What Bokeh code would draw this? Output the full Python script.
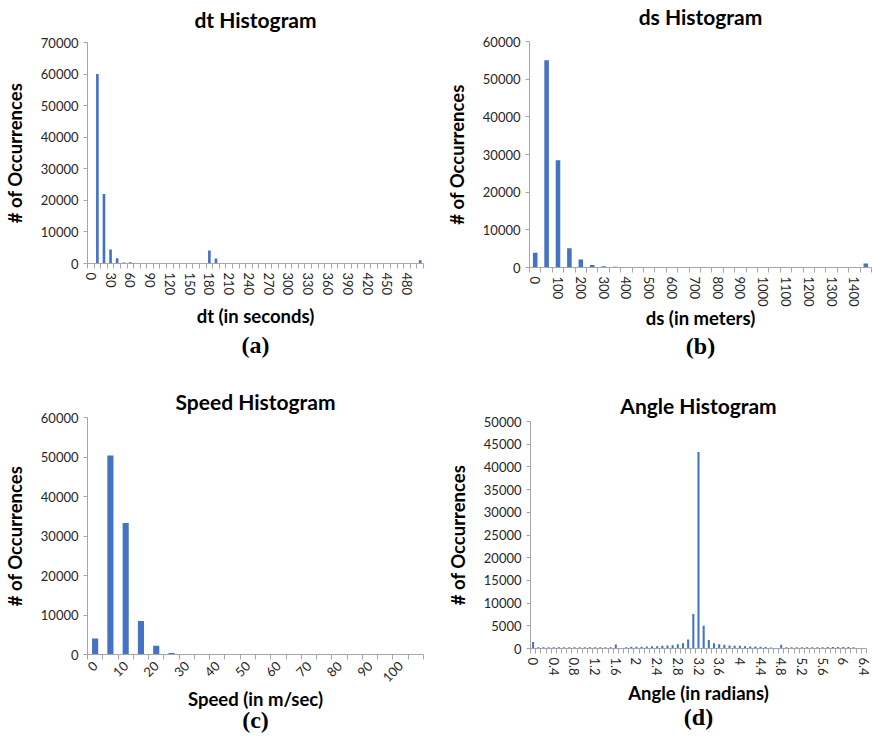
from bokeh.plotting import figure
from bokeh.layouts import column, row
from bokeh.models import FixedTicker, Range1d, LinearAxis, ColumnDataSource
from bokeh.embed import file_html
from bokeh.resources import INLINE

# ---------------- data ----------------
dt_bins = ["0", "10", "20", "30", "40", "50", "60", "70", "80", "90", "100", "110", "120", "130",
           "140", "150", "160", "170", "180", "190", "200", "210", "220", "230", "240", "250",
           "260", "270", "280", "290", "300", "310", "320", "330", "340", "350", "360", "370",
           "380", "390", "400", "410", "420", "430", "440", "450", "460", "470", "480", "490", "500"]
dt_counts = [0, 60000, 22000, 4400, 1700, 300, 400, 120, 80, 60, 50, 40, 60, 40,
             30, 40, 30, 60, 4100, 1600, 100, 60, 40, 30, 60, 30,
             40, 30, 20, 20, 60, 20, 20, 20, 20, 30, 150, 60,
             20, 20, 20, 20, 40, 20, 20, 20, 20, 20, 30, 20, 1000]
dt_tick_labels = ["0", "30", "60", "90", "120", "150", "180", "210", "240", "270", "300",
                  "330", "360", "390", "420", "450", "480"]
dt_yticks = [0, 10000, 20000, 30000, 40000, 50000, 60000, 70000]

ds_bins = ["0", "50", "100", "150", "200", "250", "300", "350", "400", "450", "500", "550",
           "600", "650", "700", "750", "800", "850", "900", "950", "1000", "1050", "1100",
           "1150", "1200", "1250", "1300", "1350", "1400", "1450"]
ds_counts = [3900, 55000, 28500, 5100, 2100, 650, 330, 170, 110, 80, 60, 45,
             35, 40, 25, 20, 20, 15, 15, 15, 12, 12, 10,
             10, 10, 10, 10, 10, 10, 1050]
ds_tick_labels = ["0", "100", "200", "300", "400", "500", "600", "700", "800", "900", "1000",
                  "1100", "1200", "1300", "1400"]
ds_yticks = [0, 10000, 20000, 30000, 40000, 50000, 60000]

speed_bins = ["0", "5", "10", "15", "20", "25", "30", "35", "40", "45", "50", "55", "60",
              "65", "70", "75", "80", "85", "90", "95", "100", "105"]
speed_counts = [4050, 50400, 33300, 8500, 2200, 400, 60, 30, 20, 15, 10, 10, 8,
                6, 5, 5, 4, 3, 3, 2, 2, 2]
speed_tick_labels = ["0", "10", "20", "30", "40", "50", "60", "70", "80", "90", "100"]
speed_yticks = [0, 10000, 20000, 30000, 40000, 50000, 60000]

angle_bins = ["0", "0.1", "0.2", "0.3", "0.4", "0.5", "0.6", "0.7", "0.8", "0.9", "1", "1.1",
              "1.2", "1.3", "1.4", "1.5", "1.6", "1.7", "1.8", "1.9", "2", "2.1", "2.2", "2.3",
              "2.4", "2.5", "2.6", "2.7", "2.8", "2.9", "3", "3.1", "3.2", "3.3", "3.4", "3.5",
              "3.6", "3.7", "3.8", "3.9", "4", "4.1", "4.2", "4.3", "4.4", "4.5", "4.6", "4.7",
              "4.8", "4.9", "5", "5.1", "5.2", "5.3", "5.4", "5.5", "5.6", "5.7", "5.8", "5.9",
              "6", "6.1", "6.2", "6.3", "6.4"]
angle_counts = [1450, 300, 300, 300, 290, 300, 290, 300, 300, 290, 300, 300,
                290, 300, 300, 300, 880, 40, 250, 370, 380, 390, 440, 510,
                520, 590, 660, 740, 950, 1180, 2000, 7600, 43300, 5000, 1850, 1180,
                950, 810, 660, 590, 580, 510, 450, 440, 380, 310, 230, 40,
                820, 260, 270, 280, 280, 290, 290, 300, 300, 310, 320, 330,
                340, 330, 300, 120, 0]
angle_tick_labels = ["0", "0.4", "0.8", "1.2", "1.6", "2", "2.4", "2.8", "3.2", "3.6", "4",
                     "4.4", "4.8", "5.2", "5.6", "6", "6.4"]
angle_yticks = [0, 5000, 10000, 15000, 20000, 25000, 30000, 35000, 40000, 45000, 50000]

BAR = "#4472C4"
FONT = "Lato"
TXT = "#262626"
AX = "#A6A6A6"


def text_axis(label, font, size, standoff):
    ax = LinearAxis(ticker=FixedTicker(ticks=[]), axis_label=label)
    ax.axis_line_color = None
    ax.major_tick_line_color = None
    ax.minor_tick_line_color = None
    ax.major_tick_out = 0
    ax.major_tick_in = 0
    ax.minor_tick_out = 0
    ax.minor_tick_in = 0
    ax.major_label_standoff = 0
    ax.axis_label_standoff = standoff
    ax.axis_label_text_font = font
    ax.axis_label_text_font_size = size
    ax.axis_label_text_font_style = "bold"
    ax.axis_label_text_color = "black"
    return ax


def panel(title, xlabel, caption, cats, counts, tick_labels, yticks, orient,
          w, h, bl, br, bt, bb, title_so, xlab_so, cap_so):
    n = len(cats)
    p = figure(width=w, height=h, output_backend="svg", toolbar_location=None,
               x_range=Range1d(-0.5, n - 0.5), y_range=Range1d(yticks[0], yticks[-1]),
               min_border_left=bl, min_border_right=br, min_border_top=bt,
               min_border_bottom=bb)
    src = ColumnDataSource(dict(x=list(range(n)), top=counts))
    p.vbar(x="x", top="top", width=0.4, source=src, fill_color=BAR, line_color=None)

    p.xgrid.visible = False
    p.ygrid.visible = False
    p.outline_line_color = None
    p.background_fill_color = "white"

    tick_idx = [cats.index(t) for t in tick_labels]
    xa = p.xaxis[0]
    xa.ticker = FixedTicker(ticks=tick_idx, minor_ticks=[i - 0.5 for i in range(n + 1)])
    xa.major_label_overrides = {i: t for i, t in zip(tick_idx, tick_labels)}
    xa.major_tick_out = 0
    xa.major_tick_in = 0
    xa.minor_tick_out = 5
    xa.minor_tick_in = 0
    xa.minor_tick_line_color = AX
    xa.axis_line_color = AX
    xa.major_label_orientation = orient
    xa.major_label_text_font = FONT
    xa.major_label_text_font_size = "13px"
    xa.major_label_text_color = TXT
    xa.major_label_standoff = 4
    xa.axis_label = xlabel
    xa.axis_label_text_font = FONT
    xa.axis_label_text_font_size = "18.5px"
    xa.axis_label_text_font_style = "bold"
    xa.axis_label_text_color = "black"
    xa.axis_label_standoff = xlab_so

    ya = p.yaxis[0]
    ya.ticker = FixedTicker(ticks=yticks)
    ya.major_tick_out = 4
    ya.major_tick_in = 0
    ya.minor_tick_out = 0
    ya.minor_tick_in = 0
    ya.major_tick_line_color = AX
    ya.axis_line_color = AX
    ya.major_label_text_font = FONT
    ya.major_label_text_font_size = "13px"
    ya.major_label_text_color = TXT
    ya.major_label_standoff = 5
    ya.axis_label = "# of Occurrences"
    ya.axis_label_text_font = FONT
    ya.axis_label_text_font_size = "18.5px"
    ya.axis_label_text_font_style = "bold"
    ya.axis_label_text_color = "black"
    ya.axis_label_standoff = 12

    p.add_layout(text_axis(title, FONT, "21px", title_so), "above")
    p.add_layout(text_axis(caption, "Liberation Serif", "24px", cap_so), "below")
    return p


p1 = panel("dt Histogram", "dt (in seconds)", "(a)", dt_bins, dt_counts, dt_tick_labels,
           dt_yticks, "vertical", 436, 375, 84, 13, 42, 112, 11, 7, 1)
p2 = panel("ds Histogram", "ds (in meters)", "(b)", ds_bins, ds_counts, ds_tick_labels,
           ds_yticks, "vertical", 436, 375, 93, 1, 38, 108, 13, -3, 1)
p3 = panel("Speed Histogram", "Speed (in m/sec)", "(c)", speed_bins, speed_counts,
           speed_tick_labels, speed_yticks, 0.785398, 436, 376, 81, 13, 42, 97, 4, -2, -6)
p4 = panel("Angle Histogram", "Angle (in radians)", "(d)", angle_bins, angle_counts,
           angle_tick_labels, angle_yticks, "vertical", 436, 376, 94, 6, 46, 103, 4, 3, -3)

layout = column(row(column(p1), column(p2), spacing=0),
                row(column(p3), column(p4), spacing=0), spacing=0)

open("out.html", "w").write(file_html(layout, INLINE))
